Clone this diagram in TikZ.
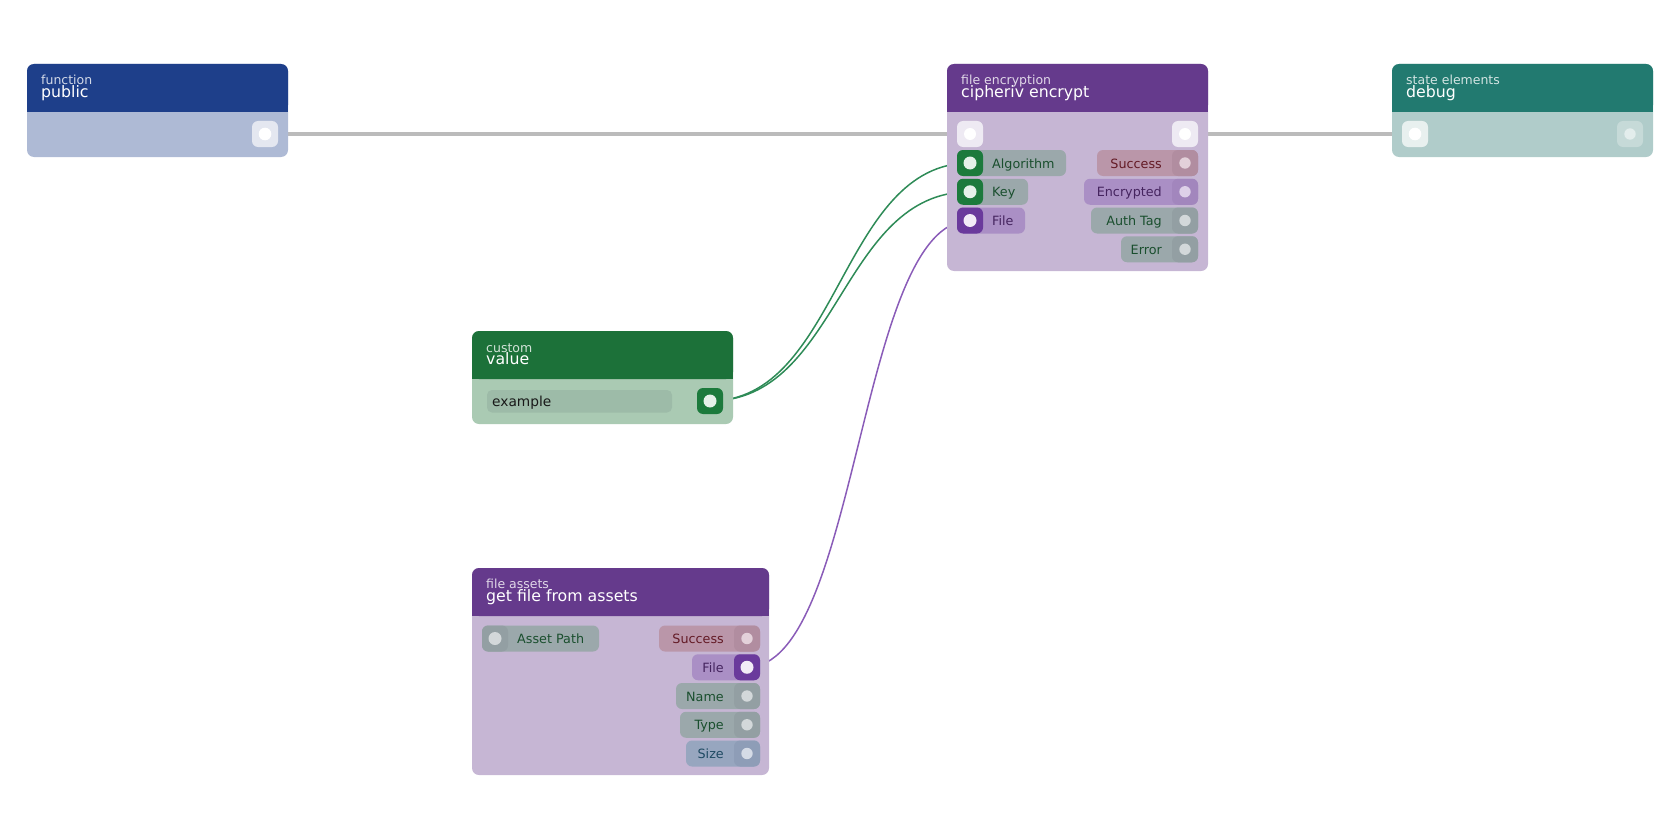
\documentclass[tikz,border=0pt]{standalone}
\usepackage{fontspec}
\setmainfont{DejaVu Sans}
\usetikzlibrary{backgrounds}
\definecolor{pubH}{HTML}{1E3F8A}\definecolor{pubB}{HTML}{AEBAD5}
\definecolor{purH}{HTML}{653A8C}\definecolor{purB}{HTML}{C6B6D4}
\definecolor{tealH}{HTML}{227A70}\definecolor{tealB}{HTML}{B0CCCA}
\definecolor{grnH}{HTML}{1C7139}\definecolor{grnB}{HTML}{AACAB3}\definecolor{fieldB}{HTML}{9DBBA8}
\definecolor{pillGrey}{HTML}{9BA8AB}\definecolor{portGrey}{HTML}{939FA3}\definecolor{dotGrey}{HTML}{D3D8DA}
\definecolor{pillPink}{HTML}{BA96A9}\definecolor{portPink}{HTML}{B18DA0}\definecolor{dotPink}{HTML}{E3D1DA}
\definecolor{pillPurp}{HTML}{AA8FC5}\definecolor{portPurpD}{HTML}{A286BD}\definecolor{dotPurp}{HTML}{DDD0E8}
\definecolor{portPurp}{HTML}{6A3A9C}\definecolor{dotPurpW}{HTML}{F2ECF7}
\definecolor{portGreen}{HTML}{1C7A3C}\definecolor{dotGreenW}{HTML}{E5F1E9}
\definecolor{pillBlue}{HTML}{97A6BF}\definecolor{portBlue}{HTML}{8E9DB7}\definecolor{dotBlue}{HTML}{D5DBE6}
\definecolor{txtGreen}{HTML}{1A4F2E}\definecolor{txtRed}{HTML}{631A25}\definecolor{txtPurp}{HTML}{45245F}\definecolor{txtBlue}{HTML}{1F4A63}
\definecolor{execPort}{HTML}{EEEAF3}\definecolor{pubPort}{HTML}{E4E7F0}
\definecolor{dbgIn}{HTML}{E8F0EF}\definecolor{dbgOut}{HTML}{C6DAD8}\definecolor{dbgDot}{HTML}{E3EDEC}
\definecolor{edgeGrey}{HTML}{BBBBBB}\definecolor{edgeGreen}{HTML}{2E8B57}\definecolor{edgePurp}{HTML}{8A5CB8}
\tikzset{
  port/.style={draw=none, rounded corners=6pt, minimum width=26pt, minimum height=26pt, inner sep=0pt},
  cat/.style={anchor=base west, inner sep=0pt, text=white, text opacity=0.8, font=\fontsize{12.5}{13}\selectfont},
  ttl/.style={anchor=base west, inner sep=0pt, text=white, font=\fontsize{15.75}{16}\selectfont},
  plbl/.style={inner sep=0pt, font=\fontsize{12.75}{13}\selectfont},
  execedge/.style={draw=edgeGrey, line width=4.5pt},
  gedge/.style={draw=edgeGreen, line width=1.5pt},
  pedge/.style={draw=edgePurp, line width=1.5pt}
}
% #1 x1 #2 y1 #3 x2 #4 y2 #5 header bottom #6 header colour #7 body colour
\newcommand\nbox[7]{%
  \fill[#7, rounded corners=7pt] (#1,#2) rectangle (#3,#4);
  \fill[#6, rounded corners=7pt] (#1,#2) rectangle (#3,#5);
  \fill[#6] (#1,#5-8) rectangle (#3,#5);
}
% #1 name #2 port x #3 y #4 pill end x #5 pill #6 port #7 dot #8 text colour #9 label
\newcommand\inpill[9]{%
  \fill[#5, rounded corners=6pt] (#2-13,#3-13) rectangle (#4,#3+13);
  \node[port, fill=#6] (#1) at (#2,#3) {};
  \fill[#7] (#1.center) circle[radius=6.5pt];
  \node[plbl, text=#8, anchor=base west] (#1-l) at (#2+22,#3+5) {#9};
}
\newcommand\outpill[9]{%
  \fill[#5, rounded corners=6pt] (#4,#3-13) rectangle (#2+13,#3+13);
  \node[port, fill=#6] (#1) at (#2,#3) {};
  \fill[#7] (#1.center) circle[radius=5.7pt];
  \node[plbl, text=#8, anchor=base east] (#1-l) at (#2-23,#3+5) {#9};
}
\begin{document}
\begin{tikzpicture}[x=1pt,y=-1pt]
\useasboundingbox (0,0) rectangle (1680,840);
% ---- public
\nbox{27}{64}{288}{157}{112}{pubH}{pubB}
\node[cat] (pubcat) at (41,84.5) {function};
\node[ttl] (pubttl) at (41,97.5) {public};
\node[port, fill=pubPort] (pubout) at (265,134) {};
\fill[white] (pubout.center) circle[radius=6.3pt];
% ---- cipheriv encrypt
\nbox{947}{64}{1208}{271}{112}{purH}{purB}
\node[cat] (ciphcat) at (961,84.5) {file encryption};
\node[ttl] (ciphttl) at (961,97.5) {cipheriv encrypt};
\node[port, fill=execPort] (cin) at (970,134) {};
\fill[white] (cin.center) circle[radius=6pt];
\node[port, fill=execPort] (cout) at (1185,134) {};
\fill[white] (cout.center) circle[radius=6pt];
\inpill{alg}{970}{163}{1066}{pillGrey}{portGreen}{dotGreenW}{txtGreen}{Algorithm}
\inpill{key}{970}{191.75}{1028}{pillGrey}{portGreen}{dotGreenW}{txtGreen}{Key}
\inpill{cfile}{970}{220.5}{1025}{pillPurp}{portPurp}{dotPurpW}{txtPurp}{File}
\outpill{csucc}{1185}{163}{1097}{pillPink}{portPink}{dotPink}{txtRed}{Success}
\outpill{cenc}{1185}{191.75}{1084}{pillPurp}{portPurpD}{dotPurp}{txtPurp}{Encrypted}
\outpill{cauth}{1185}{220.5}{1091}{pillGrey}{portGrey}{dotGrey}{txtGreen}{Auth Tag}
\outpill{cerr}{1185}{249.25}{1121}{pillGrey}{portGrey}{dotGrey}{txtGreen}{Error}
% ---- debug
\nbox{1392}{64}{1653}{157}{112}{tealH}{tealB}
\node[cat] (dbgcat) at (1406,84.5) {state elements};
\node[ttl] (dbgttl) at (1406,97.5) {debug};
\node[port, fill=dbgIn] (dbgin) at (1415,134) {};
\fill[white] (dbgin.center) circle[radius=6.3pt];
\node[port, fill=dbgOut] (dbgout) at (1630,134) {};
\fill[dbgDot] (dbgout.center) circle[radius=5.7pt];
% ---- value
\nbox{472}{331}{733}{424}{379}{grnH}{grnB}
\node[cat] (valcat) at (486,352) {custom};
\node[ttl] (valttl) at (486,364.5) {value};
\fill[fieldB, rounded corners=5pt] (487,390) rectangle (672,412.5);
\node[inner sep=0pt, anchor=base west, text=black!90, font=\fontsize{13.75}{14}\selectfont] (valfield) at (492,406) {example};
\node[port, fill=portGreen] (valout) at (710,401) {};
\fill[dotGreenW] (valout.center) circle[radius=6.5pt];
% ---- get file from assets
\nbox{472}{568}{769}{775}{616}{purH}{purB}
\node[cat] (astcat) at (486,588.5) {file assets};
\node[ttl] (astttl) at (486,601.5) {get file from assets};
\inpill{apath}{495}{638.5}{599}{pillGrey}{portGrey}{dotGrey}{txtGreen}{Asset Path}
\outpill{asucc}{747}{638.5}{659}{pillPink}{portPink}{dotPink}{txtRed}{Success}
\fill[pillPurp, rounded corners=6pt] (692,654.25) rectangle (760,680.25);
\node[port, fill=portPurp] (afile) at (747,667.25) {};
\fill[dotPurpW] (afile.center) circle[radius=6.5pt];
\node[plbl, text=txtPurp, anchor=base east] (afile-l) at (724,672.25) {File};
\outpill{aname}{747}{696}{676}{pillGrey}{portGrey}{dotGrey}{txtGreen}{Name}
\outpill{atype}{747}{724.75}{680}{pillGrey}{portGrey}{dotGrey}{txtGreen}{Type}
\outpill{asize}{747}{753.5}{686}{pillBlue}{portBlue}{dotBlue}{txtBlue}{Size}
% ---- connectors
\begin{scope}[on background layer]
\draw[execedge] (pubout.center) -- (cin.center);
\draw[execedge] (cout.center) -- (dbgin.center);
\draw[gedge] (valout.center) .. controls +(130,0) and +(-130,0) .. (alg.center);
\draw[gedge] (valout.center) .. controls +(130,0) and +(-130,0) .. (key.center);
\draw[pedge] (afile.center) .. controls +(112,0) and +(-112,0) .. (cfile.center);
\end{scope}
\end{tikzpicture}
\end{document}
